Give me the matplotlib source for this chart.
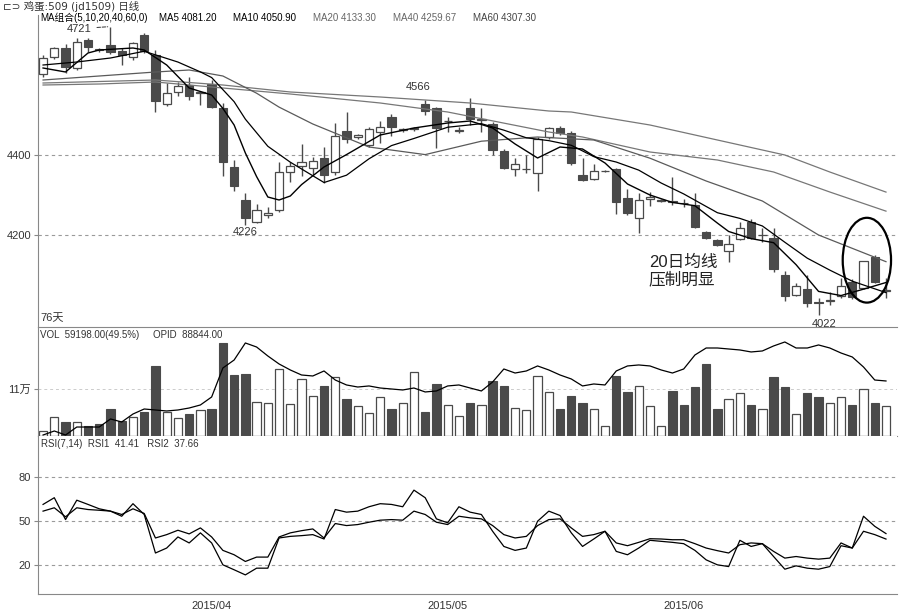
import matplotlib
matplotlib.use('Agg')
import matplotlib.pyplot as plt
from matplotlib.patches import Ellipse
import numpy as np

plt.rcParams['font.family'] = ['Liberation Sans', 'Noto Sans CJK SC']

# daily candles, index 0..75
opens = [4602, 4646, 4668, 4617, 4687, 4665, 4675, 4660, 4646, 4700,
         4650, 4527, 4557, 4575, 4555, 4577, 4517, 4369, 4287, 4232,
         4250, 4262, 4358, 4373, 4368, 4392, 4358, 4460, 4446, 4425,
         4457, 4496, 4463, 4465, 4527, 4517, 4484, 4461, 4517, 4488,
         4477, 4410, 4365, 4364, 4354, 4446, 4467, 4454, 4350, 4340,
         4359, 4365, 4292, 4242, 4290, 4286, 4284, 4281, 4275, 4207,
         4187, 4160, 4190, 4233, 4199, 4192, 4100, 4050, 4065, 4033,
         4036, 4048, 4082, 4068, 4146, 4060]
highs = [4650, 4670, 4677, 4692, 4692, 4668, 4721, 4667, 4682, 4705,
         4662, 4579, 4583, 4596, 4560, 4587, 4529, 4387, 4304, 4277,
         4270, 4383, 4383, 4427, 4396, 4421, 4479, 4507, 4452, 4470,
         4485, 4502, 4468, 4470, 4537, 4521, 4496, 4470, 4542, 4517,
         4483, 4415, 4392, 4400, 4446, 4470, 4472, 4460, 4393, 4378,
         4363, 4367, 4315, 4304, 4308, 4290, 4346, 4290, 4304, 4210,
         4190, 4200, 4232, 4240, 4217, 4217, 4110, 4080, 4100, 4043,
         4058, 4092, 4090, 4135, 4150, 4092]
lows = [4595, 4640, 4604, 4612, 4658, 4658, 4652, 4625, 4637, 4655,
        4508, 4523, 4548, 4537, 4525, 4518, 4348, 4310, 4226, 4230,
        4242, 4258, 4332, 4348, 4350, 4329, 4350, 4429, 4440, 4420,
        4429, 4448, 4458, 4460, 4500, 4418, 4458, 4455, 4475, 4458,
        4400, 4365, 4348, 4354, 4310, 4440, 4450, 4375, 4335, 4337,
        4357, 4252, 4250, 4204, 4273, 4282, 4275, 4270, 4218, 4190,
        4172, 4133, 4187, 4190, 4183, 4107, 4035, 4048, 4021, 4000,
        4025, 4042, 4040, 4065, 4080, 4042]
closes = [4643, 4667, 4621, 4682, 4671, 4662, 4658, 4650, 4679, 4660,
          4535, 4554, 4573, 4548, 4558, 4521, 4382, 4323, 4242, 4262,
          4255, 4357, 4373, 4383, 4385, 4350, 4448, 4440, 4449, 4465,
          4471, 4471, 4466, 4468, 4510, 4468, 4486, 4463, 4490, 4490,
          4412, 4368, 4377, 4366, 4440, 4467, 4454, 4379, 4337, 4360,
          4361, 4283, 4254, 4287, 4296, 4288, 4282, 4279, 4221, 4192,
          4175, 4177, 4218, 4193, 4201, 4115, 4048, 4072, 4029, 4031,
          4038, 4073, 4046, 4135, 4083, 4063]

volumes = [11700, 44500, 32800, 32800, 23400, 28100, 63200, 35100, 44500, 56200,
           163800, 56200, 42100, 51500, 60800, 63200, 217600, 142700, 145100, 79600,
           77200, 156800, 74900, 133400, 93600, 117000, 138100, 86600, 70200, 53800,
           91300, 63200, 77200, 149800, 56200, 121700, 72500, 46800, 77200, 72500,
           128700, 117000, 65500, 60800, 140400, 103000, 63200, 93600, 77200, 63200,
           23400, 140400, 103000, 117000, 70200, 23400, 105300, 72500, 114700, 168500,
           63200, 86600, 100600, 72500, 63200, 138100, 114700, 51500, 100600, 91300,
           77200, 91300, 72500, 110000, 77200, 70200]
open_interest = [1600, 8100, 1600, 14500, 14500, 14500, 27500, 22600, 35500, 43600,
                 42000, 40400, 42000, 45200, 50100, 63000, 109800, 122700, 150200, 143700,
                 129200, 116300, 106600, 98500, 96900, 105000, 90400, 82400, 79100, 80800,
                 77500, 75900, 74300, 77500, 71100, 72700, 80800, 82400, 77500, 72700,
                 87200, 108200, 101700, 105000, 113100, 106600, 98500, 92100, 80800, 84000,
                 82400, 105000, 113100, 114700, 113100, 106600, 101700, 108200, 130800, 142100,
                 142100, 140500, 138900, 135700, 137300, 145400, 151800, 142100, 142100, 147000,
                 142100, 134000, 127600, 111400, 90400, 88844]

rsi1 = [61.4, 66.0, 51.0, 64.3, 61.4, 58.4, 56.8, 53.3, 61.9, 54.5,
        28.1, 31.5, 39.1, 35.0, 41.9, 35.0, 20.0, 16.6, 13.1, 17.7,
        17.7, 38.4, 39.5, 40.0, 40.7, 37.7, 57.9, 56.1, 56.8, 59.8,
        61.9, 61.4, 59.8, 71.2, 66.0, 51.5, 48.8, 59.8, 56.1, 54.5,
        43.0, 32.6, 29.9, 31.5, 49.9, 56.8, 53.8, 41.9, 32.6, 37.7,
        43.0, 29.2, 26.9, 31.5, 36.8, 36.1, 35.4, 34.5, 29.9, 23.4,
        20.0, 18.8, 36.8, 32.6, 34.5, 25.7, 17.0, 19.3, 17.7, 17.0,
        18.8, 33.1, 31.5, 53.3, 46.4, 41.41]
rsi2 = [56.8, 59.1, 52.9, 59.1, 57.9, 57.4, 56.8, 54.5, 58.4, 55.2,
        38.4, 40.7, 43.7, 41.2, 45.3, 39.1, 29.9, 26.9, 22.3, 25.3,
        25.3, 39.1, 41.9, 43.4, 44.6, 38.4, 48.3, 46.9, 47.6, 49.2,
        50.6, 51.0, 50.6, 56.8, 54.5, 49.2, 47.6, 53.3, 52.2, 51.5,
        46.9, 40.7, 38.4, 39.5, 46.9, 51.0, 51.5, 45.3, 39.5, 40.7,
        43.0, 35.0, 33.1, 35.4, 37.9, 37.7, 37.2, 37.2, 34.5, 31.5,
        29.7, 28.1, 33.8, 35.0, 34.5, 29.2, 24.6, 25.7, 24.6, 23.9,
        24.6, 35.0, 31.5, 43.0, 40.7, 37.66]

# moving averages, read at selected days
ma5_idx = [0, 2, 4, 5, 8, 9, 11, 13, 15, 16, 17, 18, 19, 20, 21, 22, 23, 25, 27, 30,
           33, 36, 38, 40, 42, 44, 46, 48, 50, 52, 54, 56, 58, 60, 61, 63, 65, 67, 69, 71,
           73, 75]
ma5 = [4617.5, 4607.5, 4655, 4662.5, 4667.5, 4662.5, 4625, 4567.5, 4550, 4516.5,
       4475, 4405, 4346, 4295, 4287.5, 4297.5, 4326, 4370, 4401, 4450,
       4467.5, 4480, 4485, 4467.5, 4427.5, 4392.5, 4420, 4415, 4380, 4327.5,
       4300, 4281.4, 4273.2, 4229.8, 4208.8, 4191, 4180.8, 4125.8, 4059, 4048.6,
       4064.6, 4081.2]
ma10_idx = [0, 3, 6, 9, 12, 14, 15, 17, 18, 20, 22, 25, 27, 29, 31, 33, 36, 39, 41, 43,
            45, 47, 49, 51, 53, 55, 57, 60, 62, 64, 66, 68, 70, 72, 75]
ma10 = [4625, 4632.5, 4642.5, 4659.3, 4632.4, 4607.7, 4593.6, 4533.3, 4489.6, 4421.8,
        4382, 4331.2, 4349.5, 4390.5, 4423.5, 4441.3, 4469.4, 4478.3, 4462.1, 4443,
        4435.9, 4424.3, 4396, 4382.4, 4362.2, 4329.9, 4302.7, 4255.7, 4241.5, 4222.6,
        4181.9, 4142, 4112.2, 4084.6, 4055.9]
ma20_idx = [0, 5, 10, 13, 16, 19, 21, 24, 29, 34, 39, 44, 49, 54, 59, 64, 69, 75]
ma20 = [4587.5, 4597.5, 4607.5, 4612.5, 4597.5, 4554.5, 4519.7, 4477.5, 4420, 4401,
        4434.5, 4445, 4437.5, 4392, 4335, 4285, 4200, 4133.3]
ma40_idx = [0, 5, 10, 14, 22, 30, 36, 45, 48, 54, 60, 65, 70, 75]
ma40 = [4575, 4577.5, 4582.5, 4572.5, 4552.5, 4530, 4507.5, 4457.5, 4445, 4407.5,
        4387.5, 4357.5, 4307.5, 4259.67]
ma60_idx = [0, 10, 16, 22, 30, 38, 45, 47, 54, 60, 66, 70, 75]
ma60 = [4580, 4587.5, 4575, 4557.5, 4545, 4530, 4510, 4507.5, 4475, 4437.5,
        4400, 4357.5, 4307.3]

month_pos = [15, 36, 57]
month_labels = ['2015/04', '2015/05', '2015/06']

DARK = '#4a4a4a'
GRID = '#9a9a9a'
TXT = '#333333'

W, H = 900, 610


def fx(x):
    return x / W


def fy(y):
    return 1 - y / H


fig = plt.figure(figsize=(9, 6.1), dpi=100)
left, right = fx(38), fx(897)
ax = fig.add_axes([left, fy(327), right - left, fy(15) - fy(327)])
axv = fig.add_axes([left, fy(436), right - left, fy(327) - fy(436)], sharex=ax)
axr = fig.add_axes([left, fy(594), right - left, fy(436) - fy(594)], sharex=ax)

n = len(closes)
idx = np.arange(n)
o = np.array(opens, float)
c = np.array(closes, float)
down = c < o
bw = 0.74

# candles
ax.vlines(idx, lows, highs, color=DARK, lw=1.0, zorder=2)
body_lo = np.minimum(o, c)
body_h = np.maximum(np.abs(c - o), 1.2)
ax.bar(idx[down], body_h[down], bottom=body_lo[down], width=bw,
       color=DARK, edgecolor=DARK, lw=0.8, zorder=3)
ax.bar(idx[~down], body_h[~down], bottom=body_lo[~down], width=bw,
       color='white', edgecolor=DARK, lw=0.9, zorder=3)

ax.plot(ma60_idx, ma60, color='#777777', lw=0.9, zorder=4)
ax.plot(ma40_idx, ma40, color='#777777', lw=0.9, zorder=4)
ax.plot(ma20_idx, ma20, color='#5a5a5a', lw=0.9, zorder=4)
ax.plot(ma10_idx, ma10, color='black', lw=0.9, zorder=4)
ax.plot(ma5_idx, ma5, color='black', lw=1.0, zorder=4)

ax.set_ylim(3970, 4750)
ax.set_yticks([4200, 4400])
ax.grid(axis='y', color=GRID, ls=(0, (3, 3)), lw=0.8)

ax.annotate('4721', xy=(6, 4721), xytext=(2.1, 4716), fontsize=8, color=TXT,
            va='center', arrowprops=dict(arrowstyle='-', ls='--', color=TXT, lw=0.7))
ax.text(32.3, 4570, '4566', fontsize=8, color=TXT, va='center')
ax.text(18, 4208, '4226', fontsize=8, color=TXT, va='center', ha='center')
ax.text(69.5, 3978, '4022', fontsize=8, color=TXT, va='center', ha='center')
ax.text(53.9, 4110, '20日均线\n压制明显', fontsize=12, color='#222222',
        va='center', linespacing=1.1)
ax.add_patch(Ellipse((73.3, 4137), 4.3, 212, fill=False, ec='black', lw=1.6, zorder=6))
ax.text(0.003, 0.02, '76天', transform=ax.transAxes, fontsize=8, color=TXT)

# volume + open interest
vol = np.array(volumes)
axv.bar(idx[down], vol[down], width=bw, color=DARK, edgecolor=DARK, lw=0.8)
axv.bar(idx[~down], vol[~down], width=bw, color='white', edgecolor=DARK, lw=0.9)
axv.set_ylim(0, 255000)
axv.set_yticks([110000])
axv.set_yticklabels(['11万'])
axv.grid(axis='y', color='#cccccc', ls=(0, (3, 3)), lw=0.7)
axo = axv.twinx()
axo.plot(idx, open_interest, color='black', lw=0.9)
axo.set_ylim(0, 176000)
axo.set_yticks([])
for s in axo.spines.values():
    s.set_visible(False)

# RSI
axr.plot(idx, rsi1, color='black', lw=0.9)
axr.plot(idx, rsi2, color='black', lw=0.9)
axr.set_ylim(0, 108.3)
axr.set_yticks([20, 50, 80])
axr.grid(axis='y', color=GRID, ls=(0, (3, 3)), lw=0.8)
axr.set_xticks(month_pos)
axr.set_xticklabels(month_labels)
axr.set_xlim(-0.45, 75.98)

for a in (ax, axv, axr):
    for s in a.spines.values():
        s.set_visible(False)
    a.spines['left'].set_visible(True)
    a.spines['left'].set_color('#888888')
    a.tick_params(axis='y', length=3, color='#888888', labelsize=8, labelcolor=TXT, pad=2)
    a.set_axisbelow(True)
for a in (ax, axv):
    a.tick_params(axis='x', bottom=False, labelbottom=False)
axv.spines['top'].set_visible(True)
axv.spines['top'].set_color('#888888')
axv.spines['bottom'].set_visible(True)
axv.spines['bottom'].set_color('#888888')
axr.spines['bottom'].set_visible(True)
axr.spines['bottom'].set_color('#888888')
axr.tick_params(axis='x', length=0, labelsize=8, labelcolor=TXT, pad=5)

# header texts
fig.text(fx(3), fy(6), '⊏⊃ 鸡蛋:509 (jd1509) 日线', fontsize=7.5, color=TXT, va='center',
         family=['DejaVu Sans', 'Noto Sans CJK SC'])
legend = [(40, 'MA组合(5,10,20,40,60,0)', 'black'), (159, 'MA5 4081.20', 'black'),
          (233, 'MA10 4050.90', 'black'), (313, 'MA20 4133.30', '#666666'),
          (393, 'MA40 4259.67', '#666666'), (473, 'MA60 4307.30', '#444444')]
for x, t, col in legend:
    fig.text(fx(x), fy(18), t, fontsize=7, color=col, va='center')
fig.text(fx(40), fy(335), 'VOL  59198.00(49.5%)', fontsize=7, color=TXT, va='center')
fig.text(fx(153), fy(335), 'OPID  88844.00', fontsize=7, color=TXT, va='center')
fig.text(fx(41), fy(444), 'RSI(7,14)  RSI1  41.41   RSI2  37.66', fontsize=7,
         color=TXT, va='center')

fig.savefig('out.png', dpi=100, facecolor='white')
